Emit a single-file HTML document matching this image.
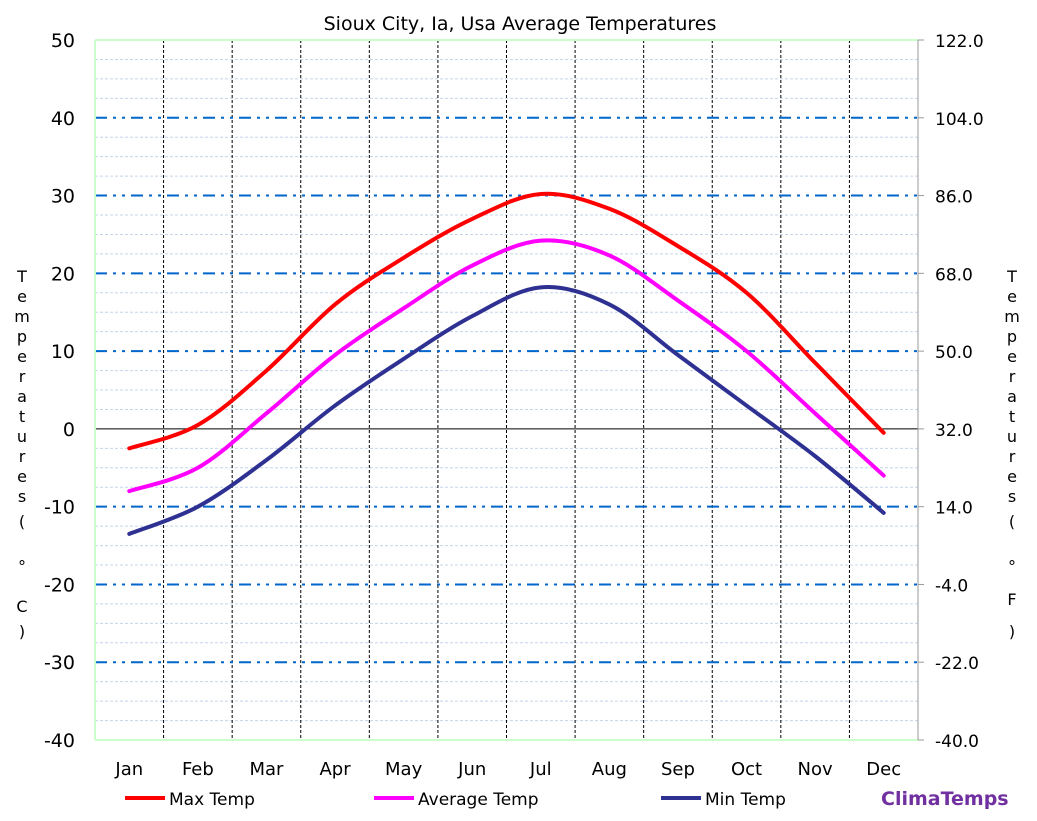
<!DOCTYPE html>
<html><head><meta charset="utf-8"><style>
body{margin:0;background:#fff;}
svg{display:block;font-family:"DejaVu Sans","Liberation Sans",sans-serif;}
</style></head><body>
<svg id="c" width="1037" height="821" xmlns="http://www.w3.org/2000/svg">
<rect width="1037" height="821" fill="#fff"/>
<text x="520" y="30" font-size="19" text-anchor="middle">Sioux City, Ia, Usa Average Temperatures</text>
<g id="grid"></g>
<g id="series"></g>
<g font-size="16" text-anchor="middle">
<text x="22" y="282">T</text><text x="22" y="302">e</text><text x="22" y="322">m</text><text x="22" y="342">p</text><text x="22" y="362">e</text><text x="22" y="382">r</text><text x="22" y="402">a</text><text x="22" y="422">t</text><text x="22" y="442">u</text><text x="22" y="462">r</text><text x="22" y="482">e</text><text x="22" y="502">s</text><text x="22" y="527">(</text><text x="22" y="572">°</text><text x="22" y="612">C</text><text x="22" y="637">)</text>
<text x="1012" y="282">T</text><text x="1012" y="302">e</text><text x="1012" y="322">m</text><text x="1012" y="342">p</text><text x="1012" y="362">e</text><text x="1012" y="382">r</text><text x="1012" y="402">a</text><text x="1012" y="422">t</text><text x="1012" y="442">u</text><text x="1012" y="462">r</text><text x="1012" y="482">e</text><text x="1012" y="502">s</text><text x="1012" y="527">(</text><text x="1012" y="572">°</text><text x="1012" y="605">F</text><text x="1012" y="637">)</text>
</g>
<g font-size="17">
<line x1="125" y1="798" x2="165" y2="798" stroke="#f00" stroke-width="4"/><text x="169" y="805">Max Temp</text>
<line x1="374" y1="798" x2="414" y2="798" stroke="#f0f" stroke-width="4"/><text x="418" y="805">Average Temp</text>
<line x1="661" y1="798" x2="701" y2="798" stroke="#2e3192" stroke-width="4"/><text x="705" y="805">Min Temp</text>
</g>
<text x="881" y="805" font-size="19" font-weight="bold" fill="#7030a0">ClimaTemps</text>
</svg>
<script>
var L=95,R=918,T=40,B=740;
function y(v){return 428.9-v*7.778;}
var g=document.getElementById('grid'),s='';
for(var v=-40;v<=50;v+=2.5){if(v%10!==0)s+='<line x1="'+L+'" x2="'+R+'" y1="'+y(v)+'" y2="'+y(v)+'" stroke="#c5d5ea" stroke-width="1" stroke-dasharray="3,2"/>';}
var cw=(R-L)/12;
for(var i=1;i<12;i++){var x=L+cw*i;s+='<line x1="'+x+'" x2="'+x+'" y1="'+T+'" y2="'+B+'" stroke="#000" stroke-width="1" stroke-dasharray="3,2"/>';}
for(var v=-30;v<=40;v+=10){if(v==0)continue;s+='<line x1="'+L+'" x2="'+R+'" y1="'+y(v)+'" y2="'+y(v)+'" stroke="#0066cc" stroke-width="2" stroke-dasharray="12,6,3,6,3,6"/>';}
s+='<line x1="'+L+'" x2="'+R+'" y1="'+y(0)+'" y2="'+y(0)+'" stroke="#000" stroke-width="1"/>';
s+='<line x1="'+L+'" x2="'+L+'" y1="'+T+'" y2="'+B+'" stroke="#ccffcc" stroke-width="2"/>';
s+='<line x1="'+L+'" x2="'+R+'" y1="'+T+'" y2="'+T+'" stroke="#ccffcc" stroke-width="2"/>';
s+='<line x1="'+L+'" x2="'+R+'" y1="'+B+'" y2="'+B+'" stroke="#ccffcc" stroke-width="2"/>';
s+='<line x1="'+R+'" x2="'+R+'" y1="'+T+'" y2="'+B+'" stroke="#999" stroke-width="1"/>';
for(var v=-40;v<=50;v+=10){s+='<text x="75" y="'+(y(v)+7)+'" font-size="19" text-anchor="end">'+v+'</text>';
var f=(v*1.8+32).toFixed(1);s+='<line x1="'+R+'" x2="'+(R+6)+'" y1="'+y(v)+'" y2="'+y(v)+'" stroke="#999"/>';s+='<text x="935" y="'+(y(v)+7)+'" font-size="17">'+f+'</text>';}
var m=['Jan','Feb','Mar','Apr','May','Jun','Jul','Aug','Sep','Oct','Nov','Dec'];
for(var i=0;i<12;i++)s+='<text x="'+(L+cw*(i+0.5))+'" y="775" font-size="18" text-anchor="middle">'+m[i]+'</text>';
g.innerHTML=s;
var data=[[[-2.5,0.5,7.5,16,22,27,30.2,28.3,23.5,17.5,8.5,-0.5],'#f00'],
[[-8,-5,2,9.5,15.5,21,24.2,22.3,16.5,10,2,-6],'#f0f'],
[[-13.5,-10,-4,3,9,14.5,18.2,16,9.5,3,-3.5,-10.8],'#2e3192']];
var out='';
data.forEach(function(d){var p=d[0].map(function(v,i){return[L+cw*(i+0.5),y(v)];});
var dd='M'+p[0][0]+','+p[0][1];
for(var i=0;i<p.length-1;i++){var p0=p[i-1]||p[i],p1=p[i],p2=p[i+1],p3=p[i+2]||p2;
dd+=' C'+(p1[0]+(p2[0]-p0[0])/6)+','+(p1[1]+(p2[1]-p0[1])/6)+' '+(p2[0]-(p3[0]-p1[0])/6)+','+(p2[1]-(p3[1]-p1[1])/6)+' '+p2[0]+','+p2[1];}
out+='<path d="'+dd+'" fill="none" stroke="'+d[1]+'" stroke-width="4" stroke-linecap="round"/>';});
document.getElementById('series').innerHTML=out;
</script>
</body></html>
